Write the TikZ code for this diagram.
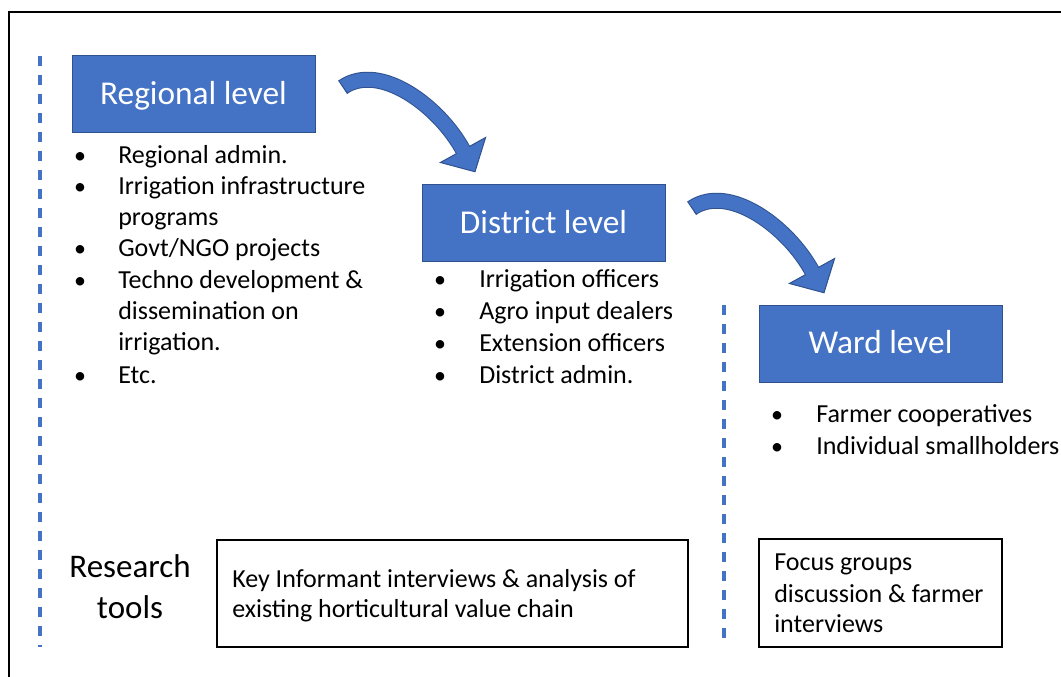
\documentclass[tikz,border=0pt]{standalone}
\usepackage{fontspec}
\setmainfont{Carlito}
\definecolor{ofblue}{HTML}{4472C4}
\definecolor{ofedge}{HTML}{2F528F}
\newcommand\mybentarrow[1]{%
\begin{scope}[shift={#1}]
 \coordinate (as) at (343,87);
 \coordinate (ac1) at (380,62);
 \coordinate (ac2) at (439,106);
 \coordinate (ab) at (463,150);
 \coordinate (abx) at (464.4,152.6);
 \coordinate (abp) at (461.1,146.5);
 \coordinate (awl) at (440.4,162.5);
 \coordinate (awr) at (485.6,137.5);
 \coordinate (atip) at (475,171.75);
 \coordinate (atl) at (338.5,80.4);
 \coordinate (atr) at (347.5,93.6);
 \draw[shaftline] (as) .. controls (ac1) and (ac2) .. (ab) -- (abx);
 \filldraw[headshape] (awl) -- (awr) -- (atip) -- cycle;
 \draw[ofblue, line width=10.5pt] (abp) -- (abx);
 \draw[ofedge, line width=0.75pt] (atl) -- (atr);
\end{scope}}
\begin{document}
\begin{tikzpicture}[x=0.75pt,y=-0.75pt,
  levelbox/.style={fill=ofblue, draw=ofedge, line width=0.75pt, minimum width=182.25pt,
    minimum height=57.75pt, inner sep=0pt, text=white, font=\fontsize{25}{30}\selectfont,
    text height=19.25pt, text depth=4.25pt},
  itemtext/.style={anchor=base west, inner sep=0pt, font=\fontsize{19.5}{23}\selectfont},
  bul/.style={anchor=base, inner sep=0pt, font=\fontsize{18}{23}\selectfont},
  toolbox/.style={draw=black, line width=1.1pt, inner sep=0pt},
  restext/.style={anchor=base, inner sep=0pt, font=\fontsize{24.75}{30}\selectfont},
  dashline/.style={draw=ofblue, line width=2.3pt, dash pattern=on 7.75pt off 6.5pt},
  shaftline/.style={draw=ofedge, line width=0.75pt, double=ofblue, double distance=10.5pt},
  headshape/.style={fill=ofblue, draw=ofedge, line width=0.75pt, line join=miter}]
\useasboundingbox (0,0) rectangle (1061,677);
\clip (0,0) rectangle (1061,677);
\fill[white] (0,0) rectangle (1061,677);
% outer frame
\draw[line width=2pt] (9,700) -- (9,12) -- (1090,12);
% dashed separators
\coordinate (d1t) at (40,56);
\coordinate (d1b) at (40,647);
\coordinate (d2t) at (724,305);
\coordinate (d2b) at (724,647);
\draw[dashline] (d1t) -- (d1b);
\draw[dashline] (d2t) -- (d2b);
% level boxes
\node[levelbox] (reg) at (193.5,94.5) {Regional level};
\node[levelbox] (dist) at (543.5,223.5) {District level};
\node[levelbox] (ward) at (880.5,344) {Ward level};
% arrows
\mybentarrow{(0,0)}
\mybentarrow{(349,121)}
% regional list
\node[bul] (rb1) at (80,164) {•};
\node[itemtext] (rt1) at (118,164) {Regional admin.};
\node[bul] (rb2) at (80,195) {•};
\node[itemtext] (rt2) at (118,195) {Irrigation infrastructure};
\node[itemtext] (rt2b) at (118,226) {programs};
\node[bul] (rb3) at (80,257) {•};
\node[itemtext] (rt3) at (118,257) {Govt/NGO projects};
\node[bul] (rb4) at (80,289) {•};
\node[itemtext] (rt4) at (118,289) {Techno development \&};
\node[itemtext] (rt4b) at (118,320) {dissemination on};
\node[itemtext] (rt4c) at (118,351) {irrigation.};
\node[bul] (rb5) at (80,383) {•};
\node[itemtext] (rt5) at (118,383) {Etc.};
% district list
\node[bul] (db1) at (440,288) {•};
\node[itemtext] (dt1) at (479,288) {Irrigation officers};
\node[bul] (db2) at (440,320) {•};
\node[itemtext] (dt2) at (479,320) {Agro input dealers};
\node[bul] (db3) at (440,352) {•};
\node[itemtext] (dt3) at (479,352) {Extension officers};
\node[bul] (db4) at (440,383) {•};
\node[itemtext] (dt4) at (479,383) {District admin.};
% ward list
\node[bul] (wb1) at (777,422) {•};
\node[itemtext] (wt1) at (816,422) {Farmer cooperatives};
\node[bul] (wb2) at (777,455) {•};
\node[itemtext] (wt2) at (816,455) {Individual smallholders};
% research tools
\node[restext] (rs1) at (130,577) {Research};
\node[restext] (rs2) at (130,618) {tools};
\node[toolbox, minimum width=353.25pt, minimum height=80.25pt] (key) at (452.5,593.5) {};
\node[itemtext] (k1) at (232,587) {Key Informant interviews \& analysis of};
\node[itemtext] (k2) at (232,617) {existing horticultural value chain};
\node[toolbox, minimum width=182.25pt, minimum height=81pt] (foc) at (880.5,593) {};
\node[itemtext] (f1) at (774,570) {Focus groups};
\node[itemtext] (f2) at (774,602) {discussion \& farmer};
\node[itemtext] (f3) at (774,632) {interviews};
\end{tikzpicture}
\end{document}
